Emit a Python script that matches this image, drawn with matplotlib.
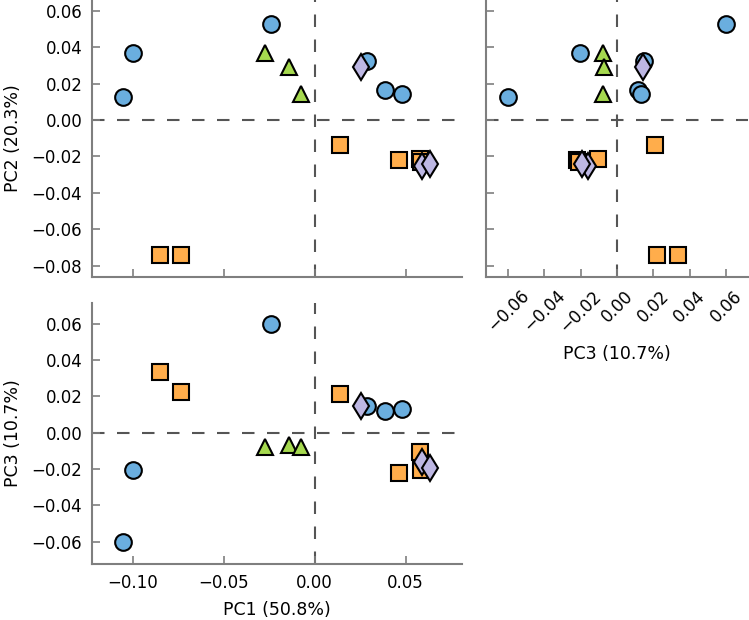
import matplotlib
matplotlib.use("Agg")
import matplotlib.pyplot as plt

# PCA scores per group
circle_pc1 = [-0.1054, -0.1000, -0.0241, 0.0288, 0.0385, 0.0482]
circle_pc2 = [0.0128, 0.0366, 0.0527, 0.0324, 0.0163, 0.0145]
circle_pc3 = [-0.0600, -0.0206, 0.0600, 0.0149, 0.0118, 0.0130]

square_pc1 = [-0.0851, -0.0738, 0.0139, 0.0462, 0.0577, 0.0587]
square_pc2 = [-0.0744, -0.0744, -0.0139, -0.0221, -0.0212, -0.0228]
square_pc3 = [0.0336, 0.0222, 0.0212, -0.0220, -0.0107, -0.0207]

tri_pc1 = [-0.0272, -0.0142, -0.0077]
tri_pc2 = [0.0366, 0.0293, 0.0143]
tri_pc3 = [-0.0077, -0.0070, -0.0080]

dia_pc1 = [0.0257, 0.0591, 0.0635]
dia_pc2 = [0.0293, -0.0251, -0.0242]
dia_pc3 = [0.0145, -0.0162, -0.0193]

pc1_label = "PC1 (50.8%)"
pc2_label = "PC2 (20.3%)"
pc3_label = "PC3 (10.7%)"

pc1_ticks = [-0.10, -0.05, 0.00, 0.05]
pc2_ticks = [-0.08, -0.06, -0.04, -0.02, 0.00, 0.02, 0.04, 0.06]
pc3_ticks = [-0.06, -0.04, -0.02, 0.00, 0.02, 0.04, 0.06]

plt.rcParams["font.family"] = ["DejaVu Sans"]
plt.rcParams["font.size"] = 12

groups = [
    (circle_pc1, circle_pc2, circle_pc3, "o", "#6aaedf", 12),
    (square_pc1, square_pc2, square_pc3, "s", "#ffad4b", 12),
    (tri_pc1, tri_pc2, tri_pc3, "^", "#a6d94f", 12),
    (dia_pc1, dia_pc2, dia_pc3, "d", "#bdb7e3", 13),
]

fig = plt.figure(figsize=(7.49, 6.2), dpi=100)
ax12 = fig.add_axes([0.1228, 0.5532, 0.494, 0.4468])
ax32 = fig.add_axes([0.6489, 0.5532, 0.3498, 0.4468], sharey=ax12)
ax13 = fig.add_axes([0.1228, 0.0903, 0.494, 0.4215], sharex=ax12)

grey = "#7f7f7f"
for ax in (ax12, ax32, ax13):
    ax.axhline(0, color="#555555", lw=1.5, ls=(0, (6, 6)), zorder=1)
    ax.axvline(0, color="#555555", lw=1.5, ls=(0, (6, 6)), zorder=1)
    for s in ("top", "right"):
        ax.spines[s].set_visible(False)
    for s in ("left", "bottom"):
        ax.spines[s].set_color(grey)
        ax.spines[s].set_linewidth(1.5)
    ax.tick_params(direction="in", length=6, width=1.2, color=grey,
                   pad=7, labelsize=12, top=False, right=False)

for p1, p2, p3, m, c, ms in groups:
    kw = dict(ls="none", marker=m, ms=ms, mfc=c, mec="black", mew=1.5, zorder=3)
    ax12.plot(p1, p2, **kw)
    ax32.plot(p3, p2, **kw)
    ax13.plot(p1, p3, **kw)

ax12.set_xlim(-0.1225, 0.081)
ax12.set_ylim(-0.0863, 0.066)
ax32.set_xlim(-0.0722, 0.0722)
ax13.set_ylim(-0.0723, 0.0716)

ax12.set_xticks(pc1_ticks)
ax12.set_yticks(pc2_ticks)
ax32.set_xticks(pc3_ticks)
ax13.set_yticks(pc3_ticks)

ax12.tick_params(labelbottom=False)
ax32.tick_params(labelleft=False)
for lbl in ax32.get_xticklabels():
    lbl.set_rotation(45)

ax12.set_ylabel(pc2_label, fontsize=12.5, labelpad=7)
ax13.set_ylabel(pc3_label, fontsize=12.5, labelpad=7)
ax13.set_xlabel(pc1_label, fontsize=12.5, labelpad=7)
ax32.set_xlabel(pc3_label, fontsize=12.5, labelpad=7)

fig.savefig("out.png", dpi=100)
